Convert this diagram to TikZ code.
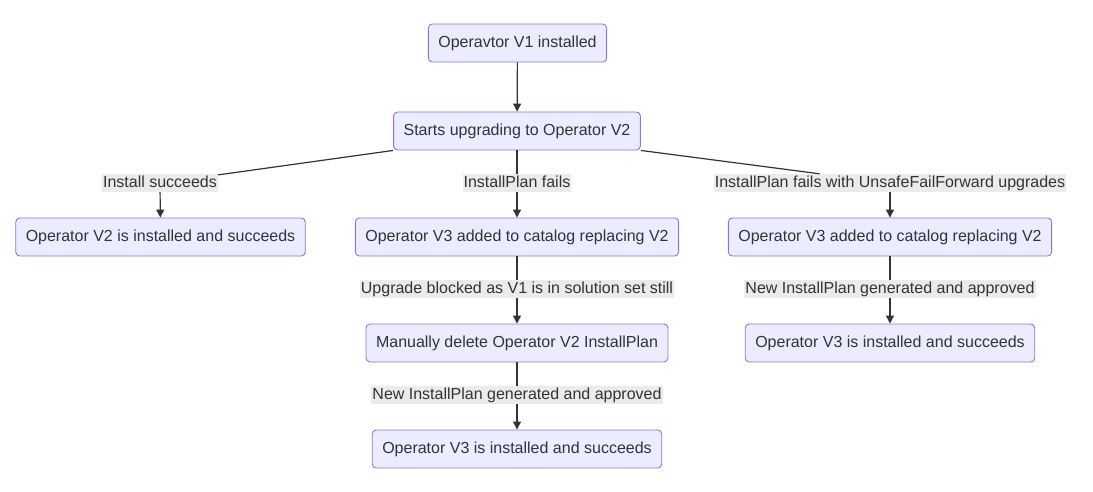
\documentclass[tikz,border=0pt]{standalone}
\usepackage{fontspec}
\setmainfont{Liberation Sans}
\usetikzlibrary{arrows.meta}

\definecolor{boxfill}{HTML}{ECECFF}
\definecolor{boxline}{HTML}{9370DB}
\definecolor{lblfill}{HTML}{EBEBEB}
\definecolor{ink}{HTML}{333333}

\begin{document}
\begin{tikzpicture}[x=1pt, y=-1pt,
  stage/.style={draw=boxline, fill=boxfill, rounded corners=4pt, line width=0.9pt, minimum height=38pt, inner xsep=10pt, text height=12.5pt, text depth=3.5pt, text=ink, font=\fontsize{16}{19}\selectfont},
  cond/.style={fill=lblfill, inner xsep=1pt, inner ysep=1pt, text height=12.5pt, text depth=3.5pt, text=ink, font=\fontsize{16}{19}\selectfont},
  link/.style={draw=ink, line width=1.2pt},
  flow/.style={link, -{Triangle[length=8pt, width=8pt]}}]

\useasboundingbox (0,0) rectangle (1093,492);

\node[stage] (v1) at (517.5,43) {Operavtor V1 installed};
\node[stage] (upgrade) at (517,131) {Starts upgrading to Operator V2};

\node[cond] (okL) at (160,183) {Install succeeds};
\node[cond] (failM) at (517,183) {InstallPlan fails};
\node[cond] (failR) at (890,183) {InstallPlan fails with UnsafeFailForward upgrades};

\node[stage] (v2done) at (160.5,237) {Operator V2 is installed and succeeds};
\node[stage] (v3addM) at (517,237) {Operator V3 added to catalog replacing V2};
\node[stage] (v3addR) at (890,237) {Operator V3 added to catalog replacing V2};

\node[cond] (blockedM) at (517,289) {Upgrade blocked as V1 is in solution set still};
\node[cond] (newR) at (890,289) {New InstallPlan generated and approved};

\node[stage] (deleteM) at (517,343) {Manually delete Operator V2 InstallPlan};
\node[stage] (v3doneR) at (890,343) {Operator V3 is installed and succeeds};

\node[cond] (newM) at (517,395) {New InstallPlan generated and approved};
\node[stage] (v3doneM) at (517,449) {Operator V3 is installed and succeeds};

% top
\draw[flow] (v1) -- (upgrade);

% left branch
\draw[link] (upgrade.south west) -- (okL);
\draw[flow] (okL) -- (v2done);

% middle branch
\draw[link] (upgrade) -- (failM);
\draw[flow] (failM) -- (v3addM);
\draw[link] (v3addM) -- (blockedM);
\draw[flow] (blockedM) -- (deleteM);
\draw[link] (deleteM) -- (newM);
\draw[flow] (newM) -- (v3doneM);

% right branch
\draw[link] (upgrade.south east) -- (failR);
\draw[flow] (failR) -- (v3addR);
\draw[link] (v3addR) -- (newR);
\draw[flow] (newR) -- (v3doneR);

\end{tikzpicture}
\end{document}
